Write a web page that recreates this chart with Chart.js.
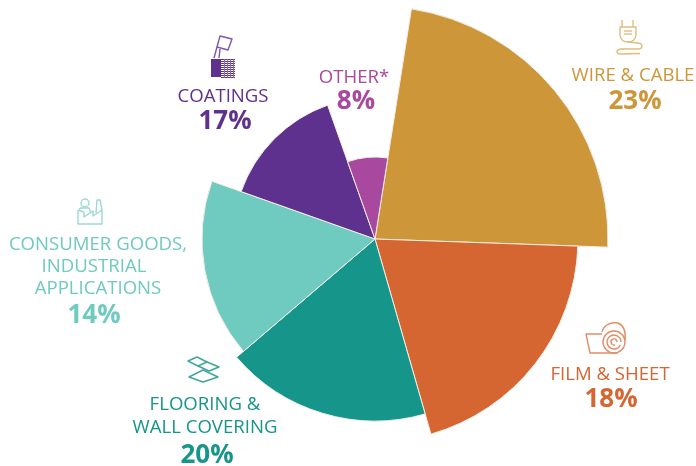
<!DOCTYPE html>
<html>
<head>
<meta charset="utf-8">
<style>
html, body { margin: 0; padding: 0; background: #fff; }
canvas { display: block; }
</style>
<script src="https://cdn.jsdelivr.net/npm/chart.js@4/dist/chart.umd.min.js"></script>
</head>
<body>
<canvas id="chart" width="696" height="466"></canvas>
<script>
// slices, clockwise from the top
const categories = ['WIRE & CABLE', 'FILM & SHEET', 'FLOORING & WALL COVERING', 'CONSUMER GOODS, INDUSTRIAL APPLICATIONS', 'COATINGS', 'OTHER*'];
const shares = ['23%', '18%', '20%', '14%', '17%', '8%'];
const sliceRadius = [233, 203, 182, 173, 142, 82];
const sliceAngle = [83, 72, 65.5, 60, 51, 28.5];
const sliceColors = ['#CD9638', '#D66631', '#16958A', '#6FCABF', '#5F318F', '#A8489F'];

// where each label sits: text lines with baselines, then the percent
const labelLayout = [
    { lines: [['WIRE & CABLE', 633, 81]], pct: [635, 109] },
    { lines: [['FILM & SHEET', 610, 380]], pct: [611, 407] },
    { lines: [['FLOORING &', 205, 410], ['WALL COVERING', 205, 433]], pct: [207, 463] },
    { lines: [['CONSUMER GOODS,', 98, 250], ['INDUSTRIAL', 94, 272], ['APPLICATIONS', 98, 294]], pct: [94, 323] },
    { lines: [['COATINGS', 223, 102]], pct: [225, 129] },
    { lines: [['OTHER*', 354, 83]], pct: [356, 109] }
];

function stroke(ctx, pts, close) {
    ctx.beginPath();
    pts.forEach((p, i) => i ? ctx.lineTo(p[0], p[1]) : ctx.moveTo(p[0], p[1]));
    if (close) ctx.closePath();
    ctx.stroke();
}

function drawPlug(ctx) {
    ctx.strokeStyle = '#E0BC80';
    stroke(ctx, [[622, 20], [622, 27]]);
    stroke(ctx, [[633, 20], [633, 27]]);
    ctx.beginPath();
    ctx.moveTo(620, 27);
    ctx.lineTo(636, 27);
    ctx.lineTo(636, 35);
    ctx.quadraticCurveTo(635, 42, 628, 42);
    ctx.quadraticCurveTo(621, 42, 620, 35);
    ctx.closePath();
    ctx.stroke();
    stroke(ctx, [[624, 31], [632, 31]]);
    stroke(ctx, [[624, 34], [632, 34]]);
    // cord
    ctx.beginPath();
    ctx.moveTo(628, 42);
    ctx.lineTo(638, 43);
    ctx.quadraticCurveTo(642, 43.5, 642, 46);
    ctx.quadraticCurveTo(642, 49, 638, 49);
    ctx.lineTo(621, 49);
    ctx.quadraticCurveTo(617, 49.5, 617, 51.5);
    ctx.quadraticCurveTo(617, 54, 621, 54);
    ctx.lineTo(640, 53.5);
    ctx.stroke();
}

function drawFilm(ctx) {
    ctx.strokeStyle = '#E08E68';
    stroke(ctx, [[602, 334], [586, 334], [590, 353], [618, 353]]);
    ctx.beginPath();
    ctx.moveTo(602, 332);
    ctx.bezierCurveTo(604, 324, 612, 322, 618, 323);
    ctx.bezierCurveTo(623, 325, 626, 331, 625, 340);
    ctx.stroke();
    ctx.beginPath();
    ctx.arc(614, 342, 11, 0, Math.PI * 2);
    ctx.stroke();
    ctx.beginPath();
    ctx.arc(614, 342, 7, 0.4, Math.PI * 2);
    ctx.stroke();
    ctx.beginPath();
    ctx.arc(614, 342, 3, 1.2, Math.PI * 2);
    ctx.stroke();
}

function drawFloor(ctx) {
    ctx.strokeStyle = '#3FA69C';
    stroke(ctx, [[188, 361], [197, 357], [207, 362], [198, 366]], true);
    stroke(ctx, [[198, 366], [209, 371], [219, 367], [207, 362]]);
    stroke(ctx, [[189, 377], [203, 370], [218, 377], [203, 382]], true);
}

function drawFactory(ctx) {
    ctx.strokeStyle = '#9CDAD2';
    stroke(ctx, [[78, 210], [78, 224], [102, 224], [102, 210], [93, 216], [93, 211], [84, 217], [84, 212], [78, 210]]);
    ctx.beginPath();
    ctx.arc(85, 203, 4, 0, Math.PI * 2);
    ctx.stroke();
    stroke(ctx, [[79, 209], [81, 208], [89, 208], [91, 213]]);
    stroke(ctx, [[96, 213], [97, 200], [100, 200], [102, 210]]);
}

function drawBrush(ctx) {
    ctx.strokeStyle = '#7F58A8';
    stroke(ctx, [[220, 36], [232, 39], [228, 50], [217, 47]], true);
    stroke(ctx, [[217, 47], [214, 58]]);
    stroke(ctx, [[220, 49], [219, 58]]);
    ctx.fillStyle = '#5F318F';
    ctx.fillRect(211, 59, 10, 18);
    ctx.strokeStyle = '#5F318F';
    ctx.lineWidth = 1;
    for (let y = 59.5; y < 78; y += 2) {
        stroke(ctx, [[221, y], [235, y]]);
    }
    ctx.strokeStyle = '#8C6BB4';
    for (let x = 224.5; x < 235; x += 3) {
        stroke(ctx, [[x, 59], [x, 78]]);
    }
}

const labelPlugin = {
    id: 'sliceLabels',
    afterDraw(chart) {
        const ctx = chart.ctx;
        ctx.save();
        ctx.lineWidth = 1.4;
        ctx.lineJoin = 'round';
        drawPlug(ctx);
        drawFilm(ctx);
        drawFloor(ctx);
        drawFactory(ctx);
        drawBrush(ctx);
        ctx.textAlign = 'center';
        ctx.textBaseline = 'alphabetic';
        labelLayout.forEach((label, i) => {
            ctx.fillStyle = sliceColors[i];
            ctx.font = '18.6px "Open Sans"';
            label.lines.forEach(l => ctx.fillText(l[0], l[1], l[2]));
            ctx.font = 'bold 26px "Open Sans"';
            ctx.fillText(shares[i], label.pct[0], label.pct[1]);
        });
        ctx.restore();
    }
};

new Chart(document.getElementById('chart'), {
    type: 'polarArea',
    data: {
        labels: categories,
        datasets: [{
            data: sliceRadius,
            backgroundColor: sliceColors,
            borderColor: '#F3EDE6',
            borderWidth: 1,
            angle: ctx => sliceAngle[ctx.dataIndex],
            clip: false
        }]
    },
    options: {
        responsive: false,
        animation: false,
        layout: { padding: { left: 54, top: 12 } },
        plugins: {
            legend: { display: false },
            tooltip: { enabled: false }
        },
        scales: {
            r: {
                display: false,
                min: 0,
                max: 227,
                startAngle: 9
            }
        }
    },
    plugins: [labelPlugin]
});
</script>
</body>
</html>
